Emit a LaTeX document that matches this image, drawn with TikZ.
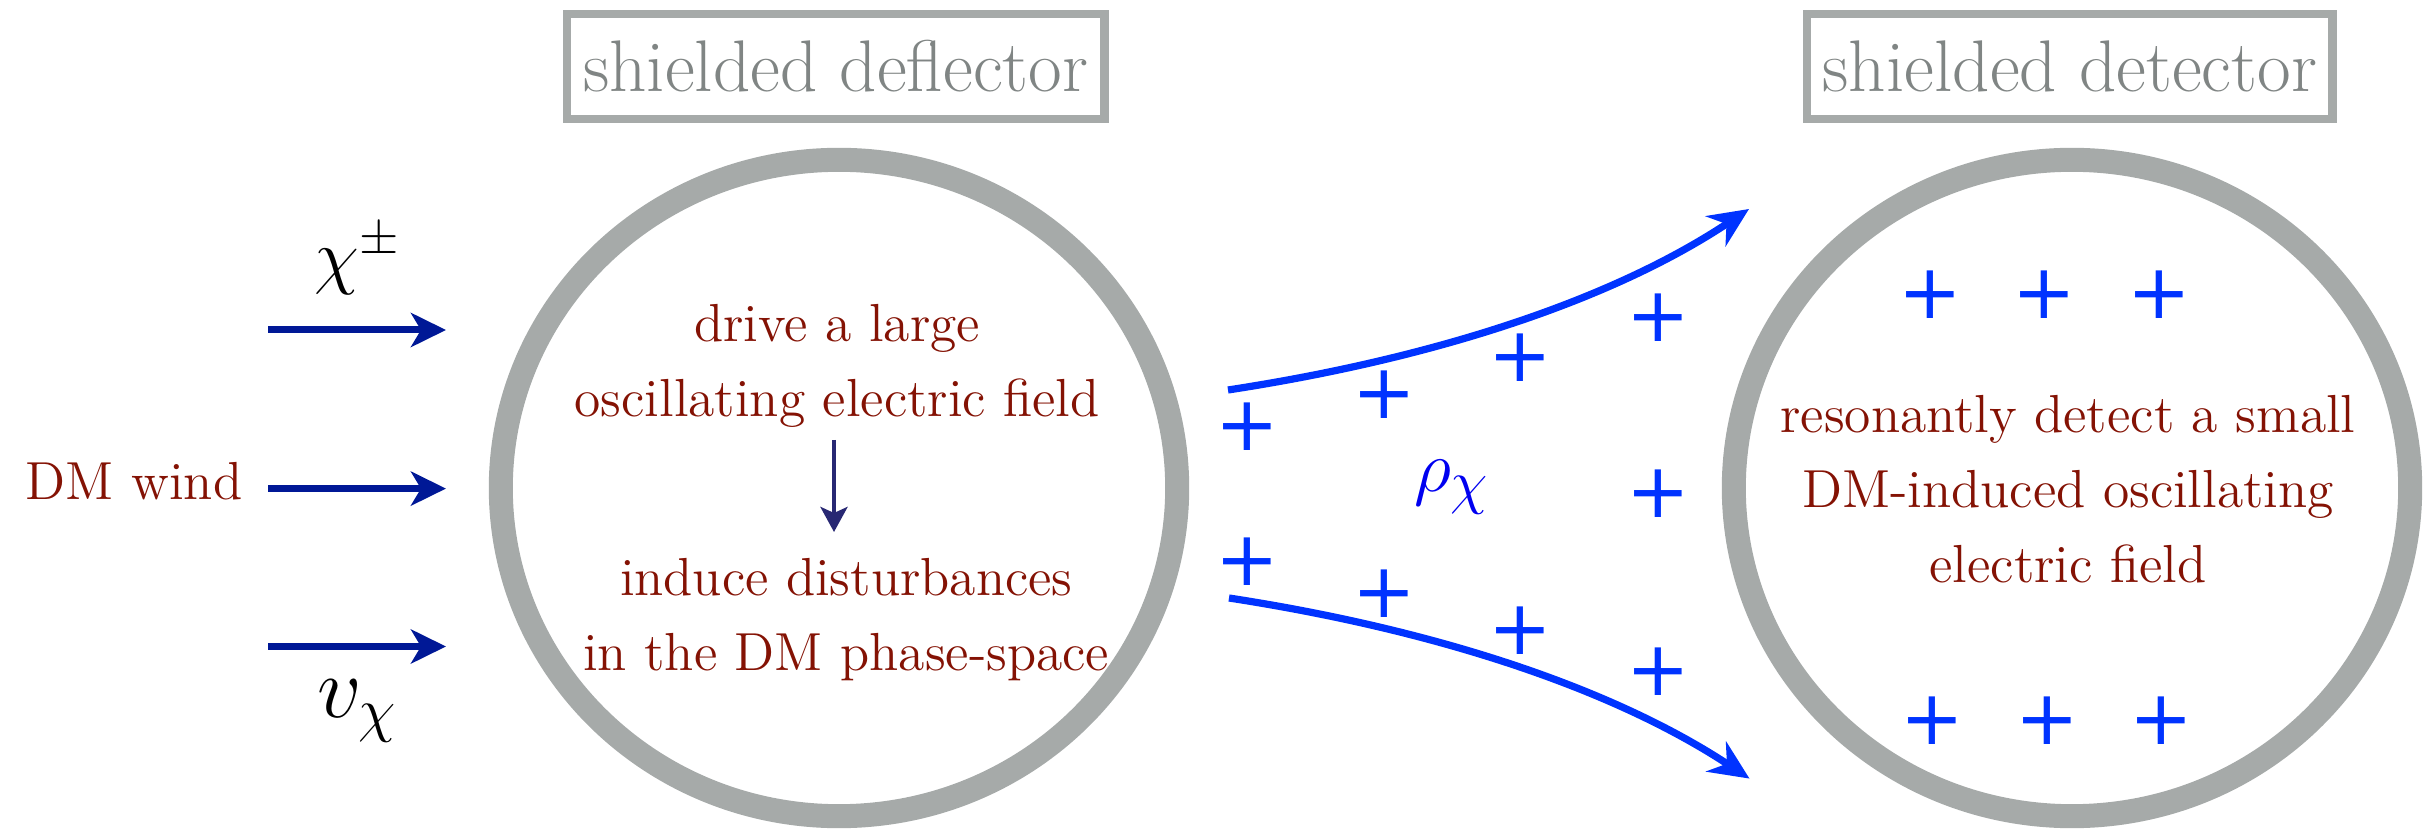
\documentclass[tikz,border=0pt]{standalone}
\usepackage{fontspec}
\usetikzlibrary{arrows.meta,shapes.geometric}
\newfontfamily\plusfont{DejaVu Sans}
\newfontfamily\redfont{lmroman12-regular}[Extension=.otf]
\definecolor{ringgray}{RGB}{166,170,169}
\definecolor{labgray}{RGB}{128,133,132}
\definecolor{dmred}{RGB}{132,18,4}
\definecolor{pblue}{RGB}{0,51,255}
\definecolor{rhoblue}{RGB}{0,0,240}
\definecolor{navy}{RGB}{0,24,150}
\definecolor{dnavy}{RGB}{40,40,115}
\begin{document}
\begin{tikzpicture}[x=0.01cm,y=0.01cm,
  ring/.style={ellipse,draw=ringgray,line width=0.24cm,minimum width=6.76cm,minimum height=6.56cm,inner sep=0pt},
  labelbox/.style={draw=ringgray,line width=0.085cm,inner sep=0pt,text=labgray,
    minimum height=1.05cm,font=\fontsize{20.8pt}{22pt}\selectfont},
  redtext/.style={text=dmred,align=center,inner sep=0pt,font=\redfont\fontsize{15.24pt}{21.3pt}\selectfont},
  plussign/.style={text=pblue,inner sep=0pt,font=\plusfont\fontsize{21.6pt}{22pt}\selectfont},
  windarrow/.style={navy,line width=0.07cm,-{Stealth[length=0.35cm,width=0.34cm,inset=0.1cm]}},
  flowarrow/.style={pblue,line width=0.072cm,-{Stealth[length=0.4cm,width=0.36cm,inset=0.13cm]}},
  steparrow/.style={dnavy,line width=0.043cm,-{Stealth[length=0.25cm,width=0.27cm,inset=0.06cm]}},
]
\useasboundingbox (0,0) rectangle (2426,833);

% rings
\node[ring] (defl) at (839,345) {};
\node[ring] (det) at (2072,345) {};

% label boxes
\node[labelbox,minimum width=5.375cm] (deflbox) at (835.7,766.7) {shielded deflector};
\node[labelbox,minimum width=5.25cm] (detbox) at (2069.8,766.7) {shielded detector};

% left side
\node[redtext,anchor=base] (wind) at (134,333.3) {DM wind};
\node[inner sep=0pt,font=\fontsize{21pt}{24pt}\selectfont] (chi) at (357.5,573.5) {$\chi^{\pm}$};
\node[inner sep=0pt,font=\fontsize{23.5pt}{26pt}\selectfont] (vchi) at (357.5,121.5) {$v_{\chi}$};

\coordinate (w1s) at (268,503); \coordinate (w1e) at (446,503);
\coordinate (w2s) at (268,344.4); \coordinate (w2e) at (446,344.4);
\coordinate (w3s) at (268,186.5); \coordinate (w3e) at (446,186.5);
\draw[windarrow] (w1s) -- (w1e);
\draw[windarrow] (w2s) -- (w2e);
\draw[windarrow] (w3s) -- (w3e);

% deflector texts
\node[redtext] (drive) at (837.2,466.7) {drive a large\\oscillating electric field};
\node[redtext] (induce) at (846.3,213.3) {induce disturbances\\in the DM phase-space};
\coordinate (d1) at (834,393); \coordinate (d2) at (834,301);
\draw[steparrow] (d1) -- (d2);

% flow
\coordinate (u1) at (1228,443); \coordinate (u2) at (1749,624);
\coordinate (l1) at (1229,235); \coordinate (l2) at (1749.5,54.4);
\draw[flowarrow] (u1) .. controls (1443.7,476) and (1617.3,536.3) .. (u2);
\draw[flowarrow] (l1) .. controls (1443.7,202) and (1617.3,141.7) .. (l2);
\node[inner sep=0pt,text=rhoblue,font=\fontsize{22.7pt}{24pt}\selectfont] (rho) at (1452,346) {$\rho_{\chi}$};

\node[plussign] (p1) at (1247.5,406) {+};
\node[plussign] (p2) at (1384,438) {+};
\node[plussign] (p3) at (1520.5,475.5) {+};
\node[plussign] (p4) at (1658.7,515) {+};
\node[plussign] (p5) at (1658.7,339) {+};
\node[plussign] (p6) at (1247.5,271) {+};
\node[plussign] (p7) at (1384,239) {+};
\node[plussign] (p8) at (1520.5,202) {+};
\node[plussign] (p9) at (1658.7,161.4) {+};

\node[plussign] (q1) at (1930.8,538) {+};
\node[plussign] (q2) at (2044.7,538) {+};
\node[plussign] (q3) at (2159.4,538) {+};
\node[plussign] (q4) at (1932.8,112.7) {+};
\node[plussign] (q5) at (2047,112.7) {+};
\node[plussign] (q6) at (2161.3,112.7) {+};

% detector text
\node[redtext] (resdet) at (2068,344) {resonantly detect a small\\DM-induced oscillating\\electric field};
\end{tikzpicture}
\end{document}
